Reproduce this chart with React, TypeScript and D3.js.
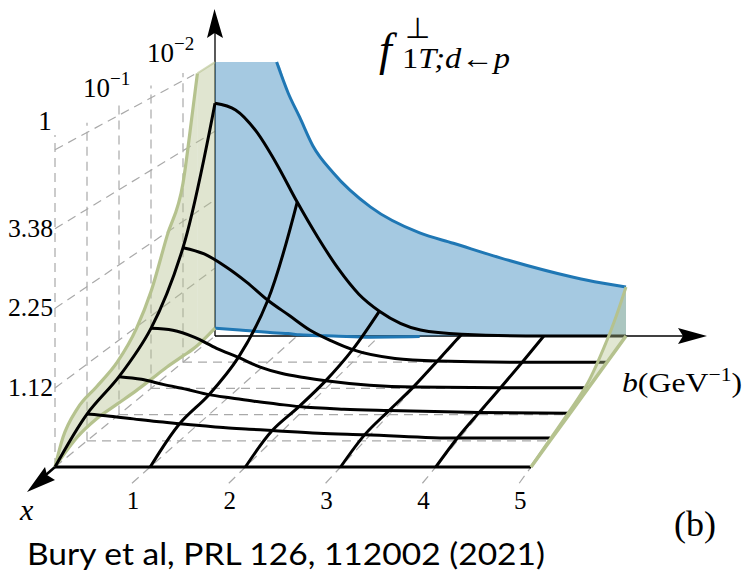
import React from "react";
import { scaleLinear, line, area, curveMonotoneX, curveCatmullRom, curveLinear } from "d3";

// surface sampled on a common b grid, one row per depth line (x = 1 ... 10^-2.5)
const bGrid = [0, 0.25, 0.5, 0.75, 1, 1.25, 1.5, 1.75, 2, 2.5, 3, 4, 5];
const surfaceD0 = [0, 0, 0, 0, 0, 0, 0, 0, 0, 0, 0, 0, 0];
const surfaceD1 = [0.39, 0.36, 0.32, 0.28, 0.25, 0.22, 0.19, 0.17, 0.15, 0.11, 0.09, 0.04, 0.04];
const surfaceD2 = [0.57, 0.53, 0.45, 0.38, 0.3, 0.25, 0.2, 0.16, 0.12, 0.08, 0.06, 0.03, 0.02];
const surfaceD3 = [0.93, 0.9, 0.79, 0.62, 0.48, 0.33, 0.23, 0.17, 0.12, 0.05, 0.02, 0.01, 0.01];
const surfaceD4 = [1.83, 1.73, 1.53, 1.28, 0.99, 0.75, 0.51, 0.34, 0.2, 0.06, 0.02, 0, 0];
const surfaceD5 = [3.84, 3.73, 3.38, 2.84, 2.21, 1.63, 1.11, 0.69, 0.41, 0.1, 0.03, 0, 0];
const surface = [surfaceD0, surfaceD1, surfaceD2, surfaceD3, surfaceD4, surfaceD5];
const depths = [0, 1, 2, 3, 4, 5];
const crossB = [0, 1, 2, 3, 4];

// uncertainty band on the back wall (b direction)
const blueB = [0, 0.3, 0.75, 0.89, 1.03, 1.19, 1.44, 1.89, 2.49, 2.9, 3.47, 4.36, 4.53, 5];
const blueUpper = [4.52, 4.52, 4.52, 4.01, 3.61, 3.14, 2.69, 2.13, 1.7, 1.53, 1.29, 0.97, 0.92, 0.81];
const blueLower = [0.13, 0.1, 0.05, 0.04, 0.02, 0.01, 0, -0.02, -0.01, 0, 0, 0, 0, 0];

// uncertainty band on the b = 0 side wall (depth direction)
const sideD = [0, 0.25, 0.7, 1.3, 1.95, 2.55, 3, 3.5, 4, 4.3, 4.45];
const sideUpper = [0, 0.33, 0.58, 0.68, 0.81, 1.1, 1.5, 2.19, 2.86, 3.92, 4.49];
const sideLower = [0, 0.07, 0.17, 0.21, 0.18, 0.15, 0.14, 0.13, 0.1, 0.08, 0.08];
const sideBackD = 5;
const sideBackUpper = 4.52;
const sideBackLower = 0.13;

// band at the b = 5 edge
const edgeD = [0, 1, 2, 3, 4, 4.5, 5];
const edgeUpper = [0, 0.02, 0.04, 0.09, 0.35, 0.55, 0.81];
const edgeLower = [0, 0, 0, 0, 0, 0, 0];

const bTicks = [1, 2, 3, 4, 5];
const zTicks = [1.12, 2.25, 3.38];
const zTopTick = 4.5;
const wallTops = [4.71, 4.64, 4.73, 4.69, 4.62];
const floorDepths = [1, 2, 3, 4];

const xBase = scaleLinear().domain([0, 5]).range([55, 215]);
const yBase = scaleLinear().domain([0, 5]).range([467, 336]);
const bStep = scaleLinear().domain([0, 5]).range([95.2, 82.2]);
const zStep = scaleLinear().domain([0, 5]).range([70.5, 60.6]);

const px = (b: number, d: number) => xBase(d) + b * bStep(d);
const py = (d: number, z: number) => yBase(d) - z * zStep(d);

type P = [number, number];
const pt = (b: number, d: number, z: number): P => [px(b, d), py(d, z)];

const path = (pts: P[], curve: any = curveLinear) => line().curve(curve)(pts) as string;
const seg = (a: P, b: P) => path([a, b]);

const BLUE = "#1f77b4";
const OLIVE = "#b5c28e";
const GRID = "#a9a9a9";
const SERIF = "'Liberation Serif', serif";

const idx = (b: number) => bGrid.indexOf(b);

export default function App() {
  const blueArea = area<number>()
    .curve(curveMonotoneX)
    .x((_, i) => px(blueB[i], 5))
    .y0((_, i) => py(5, blueLower[i]))
    .y1((v) => py(5, v))(blueUpper) as string;
  const blueTop = blueB.map((b, i) => pt(b, 5, blueUpper[i])).slice(2);
  const blueBottom = blueB.map((b, i) => pt(b, 5, blueLower[i])).slice(0, 9);

  const sideArea = area<number>()
    .curve(curveMonotoneX)
    .x((_, i) => xBase(sideD[i]))
    .y0((_, i) => py(sideD[i], sideLower[i]))
    .y1((v, i) => py(sideD[i], v))(sideUpper) as string;
  const last = sideD.length - 1;
  const sideBack = path([
    pt(0, sideD[last], sideUpper[last]),
    pt(0, sideBackD, sideBackUpper),
    pt(0, sideBackD, sideBackLower),
    pt(0, sideD[last], sideLower[last]),
  ]);

  const edgePts = edgeD.map((d, i) => pt(5, d, edgeUpper[i]));
  const edgeLow = edgeD.map((d, i) => pt(5, d, edgeLower[i]));

  return (
    <svg width={748} height={575} style={{ position: "absolute", left: 0, top: 0 }}>
      <rect width={748} height={575} fill="white" />

      {/* dashed box behind the surface */}
      <g fill="none" stroke={GRID} strokeWidth={1.2} strokeDasharray="9 6">
        {wallTops.map((z, d) => (
          <path key={d} d={seg(pt(0, d, 0), pt(0, d, z))} />
        ))}
        {zTicks.map((z) => (
          <path key={z} d={seg(pt(0, 0, z), pt(0, 5, z))} />
        ))}
        <path d={seg(pt(0, 0, zTopTick), pt(0, 4.35, zTopTick))} />
        <path d={seg(pt(0, 0, 0), pt(0, 5, 0))} />
        {floorDepths.map((d) => (
          <path key={d} d={seg(pt(0, d, 0), pt(5, d, 0))} />
        ))}
        {bTicks.map((b) => (
          <path key={b} d={seg(pt(b, -0.62, 0), pt(b, 5, 0))} />
        ))}
      </g>

      {/* axes */}
      <path d={seg(pt(0, 5, 0), [215, 30])} stroke="black" strokeWidth={1.3} />
      <path d={seg(pt(0, 5, 0), [684, 336])} stroke="black" strokeWidth={1.3} />
      <path d="M214.5 9 L223 38 L214.5 33 L207 38 Z" fill="black" />
      <path d="M707 336 L678 328 L683 336 L678 344 Z" fill="black" />
      <path d={seg(pt(0, 0, 0), [40, 480])} stroke="black" strokeWidth={2.5} />
      <path d="M27 492 L45 467 L47 475 L55 480 Z" fill="black" />

      {/* bands */}
      <path d={blueArea} fill={BLUE} fillOpacity={0.4} />
      <path d={path(blueTop, curveMonotoneX)} fill="none" stroke={BLUE} strokeWidth={3} />
      <path d={path(blueBottom, curveMonotoneX)} fill="none" stroke={BLUE} strokeWidth={3} />
      <path d={sideArea} fill={OLIVE} fillOpacity={0.42} />
      <path d={sideBack} fill={OLIVE} fillOpacity={0.42} />
      <path
        d={path(sideD.map((d, i) => pt(0, d, sideUpper[i])), curveMonotoneX)}
        fill="none"
        stroke={OLIVE}
        strokeWidth={3.2}
      />
      <path
        d={path(sideD.map((d, i) => pt(0, d, sideLower[i])).concat([pt(0, sideBackD, sideBackLower)]), curveMonotoneX)}
        fill="none"
        stroke={OLIVE}
        strokeWidth={3.2}
      />
      <path
        d={seg(pt(0, sideD[last], sideUpper[last]), pt(0, sideBackD, sideBackUpper))}
        stroke={OLIVE}
        strokeOpacity={0.6}
        strokeWidth={2}
      />

      {/* surface */}
      <g fill="none" stroke="black" strokeWidth={3}>
        {depths.map((d) => (
          <path
            key={d}
            d={path(bGrid.map((b, i) => pt(b, d, surface[d][i])), curveMonotoneX)}
          />
        ))}
        {crossB.map((b) => (
          <path
            key={b}
            d={path(depths.map((d) => pt(b, d, surface[d][idx(b)])), curveCatmullRom)}
          />
        ))}
      </g>

      {/* b = 5 edge */}
      <path
        d={`${path(edgePts, curveCatmullRom)}L${path(edgeLow.slice().reverse()).slice(1)}Z`}
        fill={OLIVE}
        fillOpacity={0.4}
      />
      <path d={path(edgePts, curveCatmullRom)} fill="none" stroke={OLIVE} strokeWidth={3} />
      <path d={path(edgeLow)} fill="none" stroke={OLIVE} strokeWidth={3.5} />

      {/* labels */}
      <g fontFamily={SERIF} fill="black">
        {zTicks.map((z) => (
          <text
            key={z}
            x={8}
            y={py(0, z) + 8}
            fontSize={26}
            textLength={45}
            lengthAdjust="spacingAndGlyphs"
          >
            {z.toFixed(2)}
          </text>
        ))}
        {bTicks.map((b) => (
          <text key={b} x={px(b, -0.62) + 1} y={509} fontSize={25} textAnchor="middle">
            {b}
          </text>
        ))}
        <text x={45} y={130} fontSize={27} textAnchor="middle">1</text>
        <text x={83} y={97} fontSize={27}>10</text>
        <text x={110} y={85} fontSize={19}>−1</text>
        <text x={147} y={62} fontSize={27}>10</text>
        <text x={174} y={50} fontSize={19}>−2</text>
        <text x={20} y={520} fontSize={30} fontStyle="italic">x</text>
        <text x={622} y={392} fontSize={28} textLength={120} lengthAdjust="spacingAndGlyphs">
          <tspan fontStyle="italic">b</tspan>
          <tspan>(GeV</tspan>
          <tspan fontSize={19} dy={-11}>−1</tspan>
          <tspan dy={11}>)</tspan>
        </text>
        <text x={379} y={65} fontSize={46} fontStyle="italic">f</text>
        <text x={405} y={38} fontSize={29}>⊥</text>
        <text x={402} y={68} fontSize={29} fontStyle="italic" textLength={108} lengthAdjust="spacingAndGlyphs">
          <tspan fontStyle="normal">1</tspan>T;d←p
        </text>
        <text x={674} y={536} fontSize={36}>(b)</text>
      </g>
      <text
        x={27}
        y={565}
        fontFamily="Lato, sans-serif"
        fontSize={31}
        textLength={518}
        lengthAdjust="spacingAndGlyphs"
        fill="black"
      >
        Bury et al, PRL 126, 112002 (2021)
      </text>
    </svg>
  );
}
